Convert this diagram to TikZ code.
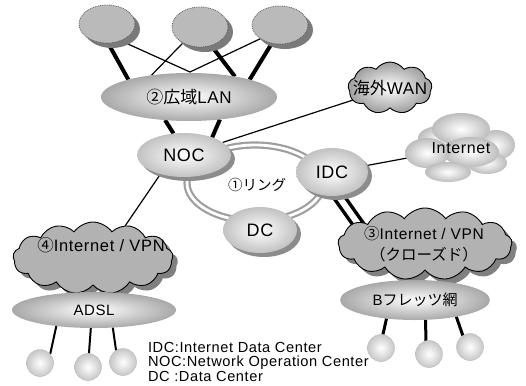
\documentclass[tikz,border=0pt]{standalone}
\usepackage{fontspec}
\setmainfont{Liberation Sans}[LetterSpace=4]
\newfontfamily\jp{Noto Sans CJK JP}
\usetikzlibrary{shapes.geometric,shapes.symbols,shadows,backgrounds,calc}

\tikzset{
  fs/.style={font=\fontsize{#1}{#1}\selectfont},
  thinlink/.style={line width=1.2pt},
  thicklink/.style={line width=4pt},
  shadowed/.style={drop shadow={shadow xshift=4pt, shadow yshift=-4pt, fill=black!45, opacity=1}},
  site/.style={ellipse, shading=radial, inner color=white, outer color=black!24, shadowed},
  net/.style={ellipse, shading=radial, inner color=white, outer color=black!34},
  leaf/.style={ellipse, fill=black!27, draw=black!65, densely dotted, line width=0.8pt,
    drop shadow={shadow xshift=5pt, shadow yshift=-5pt, fill=black!52, opacity=1}},
  host/.style={circle, minimum size=27pt, shading=radial, inner color=white, outer color=black!22,
    draw=black!25, line width=0.5pt},
  vpncloud/.style={cloud, draw=black, line width=0.9pt, fill=black!30, cloud puffs=13,
    cloud puff arc=110, drop shadow={shadow xshift=5pt, shadow yshift=-5pt, fill=black!50, opacity=1}},
  puff/.style={inner color=white, outer color=black!26},
  ringline/.style={draw=black!38, line width=2.2pt, double=white, double distance=2.8pt}
}

\begin{document}
\begin{tikzpicture}[x=1pt, y=-1pt, every node/.style={inner sep=0pt, outer sep=0pt}]
\useasboundingbox (0,0) rectangle (526,385);

% ring between the three centres
\node[ellipse, minimum width=136pt, minimum height=76pt, ringline] (ring) at (255,183) {};

% wide-area LAN and the sites above it
\node[leaf, minimum width=56pt, minimum height=38pt] (t1) at (107,24) {};
\node[leaf, minimum width=56pt, minimum height=40pt] (t2) at (200,27) {};
\node[leaf, minimum width=56pt, minimum height=38pt] (t3) at (280,25) {};
\node[net, minimum width=176pt, minimum height=48pt, fs=17] (lan) at (189,97) {{\jp ②広域}LAN};
\coordinate (hub) at ($(lan.north)+(1,-1)$);

% overseas WAN
\node[cloud, draw=black, line width=0.9pt, cloud puffs=9, cloud puff arc=110,
      shading=radial, inner color=white, outer color=black!38,
      minimum width=84pt, minimum height=52pt] (wan) at (390,88) {};
\node[fs=17] (wanlabel) at (390,88) {{\jp 海外}WAN};

% Internet cloud made of soft puffs
\shade[puff] (440,138) ellipse [x radius=22pt, y radius=12pt];
\shade[puff] (496,145) ellipse [x radius=19pt, y radius=15pt];
\shade[puff] (461,129) ellipse [x radius=29pt, y radius=16pt];
\shade[puff] (487,163) ellipse [x radius=20pt, y radius=11pt];
\shade[puff] (471,152) ellipse [x radius=28pt, y radius=15pt];
\shade[puff] (427,153) ellipse [x radius=22pt, y radius=15pt];
\shade[puff] (448,172) ellipse [x radius=23pt, y radius=10pt];
\node[ellipse, minimum width=112pt, minimum height=70pt, fs=16] (inet) at (461,148) {Internet};

% centres on the ring
\node[site, minimum width=94pt, minimum height=44pt, fs=18] (noc) at (184,155) {NOC};
\node[site, minimum width=72pt, minimum height=48pt, fs=18] (idc) at (332,172) {IDC};
\node[site, minimum width=74pt, minimum height=46pt, fs=18] (dc) at (260,230) {DC};
\node[fs=14.5] (ringlabel) at (257,185) {\jp ①リング};

% access networks
\node[vpncloud, minimum width=160pt, minimum height=72pt] (c4) at (93,258) {};
\node[fs=16.5] (c4label) at (101,245) {{\jp ④}Internet / VPN};
\node[net, minimum width=164pt, minimum height=36pt, fs=15] (adsl) at (94,310) {ADSL};

\node[vpncloud, minimum width=174pt, minimum height=72pt] (c3) at (425,244) {};
\node[align=center, fs=15.5] (c3label) at (424,244) {{\jp ③}Internet / VPN\\[6pt]{\jp （クローズド）}};
\node[net, minimum width=150pt, minimum height=40pt, fs=15] (bf) at (415,300) {B{\jp フレッツ網}};

% end hosts
\node[host] (s1) at (40,363) {};
\node[host] (s2) at (88,367) {};
\node[host] (s3) at (123,362) {};
\node[host] (s4) at (381,348) {};
\node[host] (s5) at (429,354) {};
\node[host] (s6) at (470,347) {};

% legend
\node[anchor=base west, fs=14.6] (lg1) at (148,352) {IDC:Internet Data Center};
\node[anchor=base west, fs=14.6] (lg2) at (148,366.5) {NOC:Network Operation Center};
\node[anchor=base west, fs=14.6] (lg3) at (148,381) {DC :Data Center};

% connections
\begin{scope}[on background layer]
  \draw[thicklink] (t1.273) -- (lan.164);
  \draw[thicklink] (t2.301) -- (lan.24);
  \draw[thicklink] (t3.246) -- (lan.16);
  \draw[thinlink] (t1.309) -- (hub);
  \draw[thinlink] (t3.215) -- (hub);
  \draw[thinlink] (t2.223) -- (lan.150);
  \draw[thicklink] (lan.224) -- (noc.116);
  \draw[thicklink] (lan.324) -- (noc.32);
  \draw[thinlink] (noc) -- (wan);
  \draw[thinlink] (noc.219) -- (c4.45);
  \draw[thinlink] (idc) -- (inet);
  \draw[line width=3.5pt, double=white, double distance=6pt]
    ($(idc.center)+(-5,8)$) -- ($(c3.center)+(-52,1)$);
  \draw[line width=2pt] (adsl.203) -- (s1.41);
  \draw[line width=2pt] (adsl.260) -- (s2.86);
  \draw[line width=2pt] (adsl.317) -- (s3.121);
  \draw[line width=3pt] (bf.213) -- (s4.82);
  \draw[line width=3pt] (bf.298) -- (s5.103);
  \draw[line width=3pt] (bf.338) -- (s6.122);
\end{scope}
\end{tikzpicture}
\end{document}
